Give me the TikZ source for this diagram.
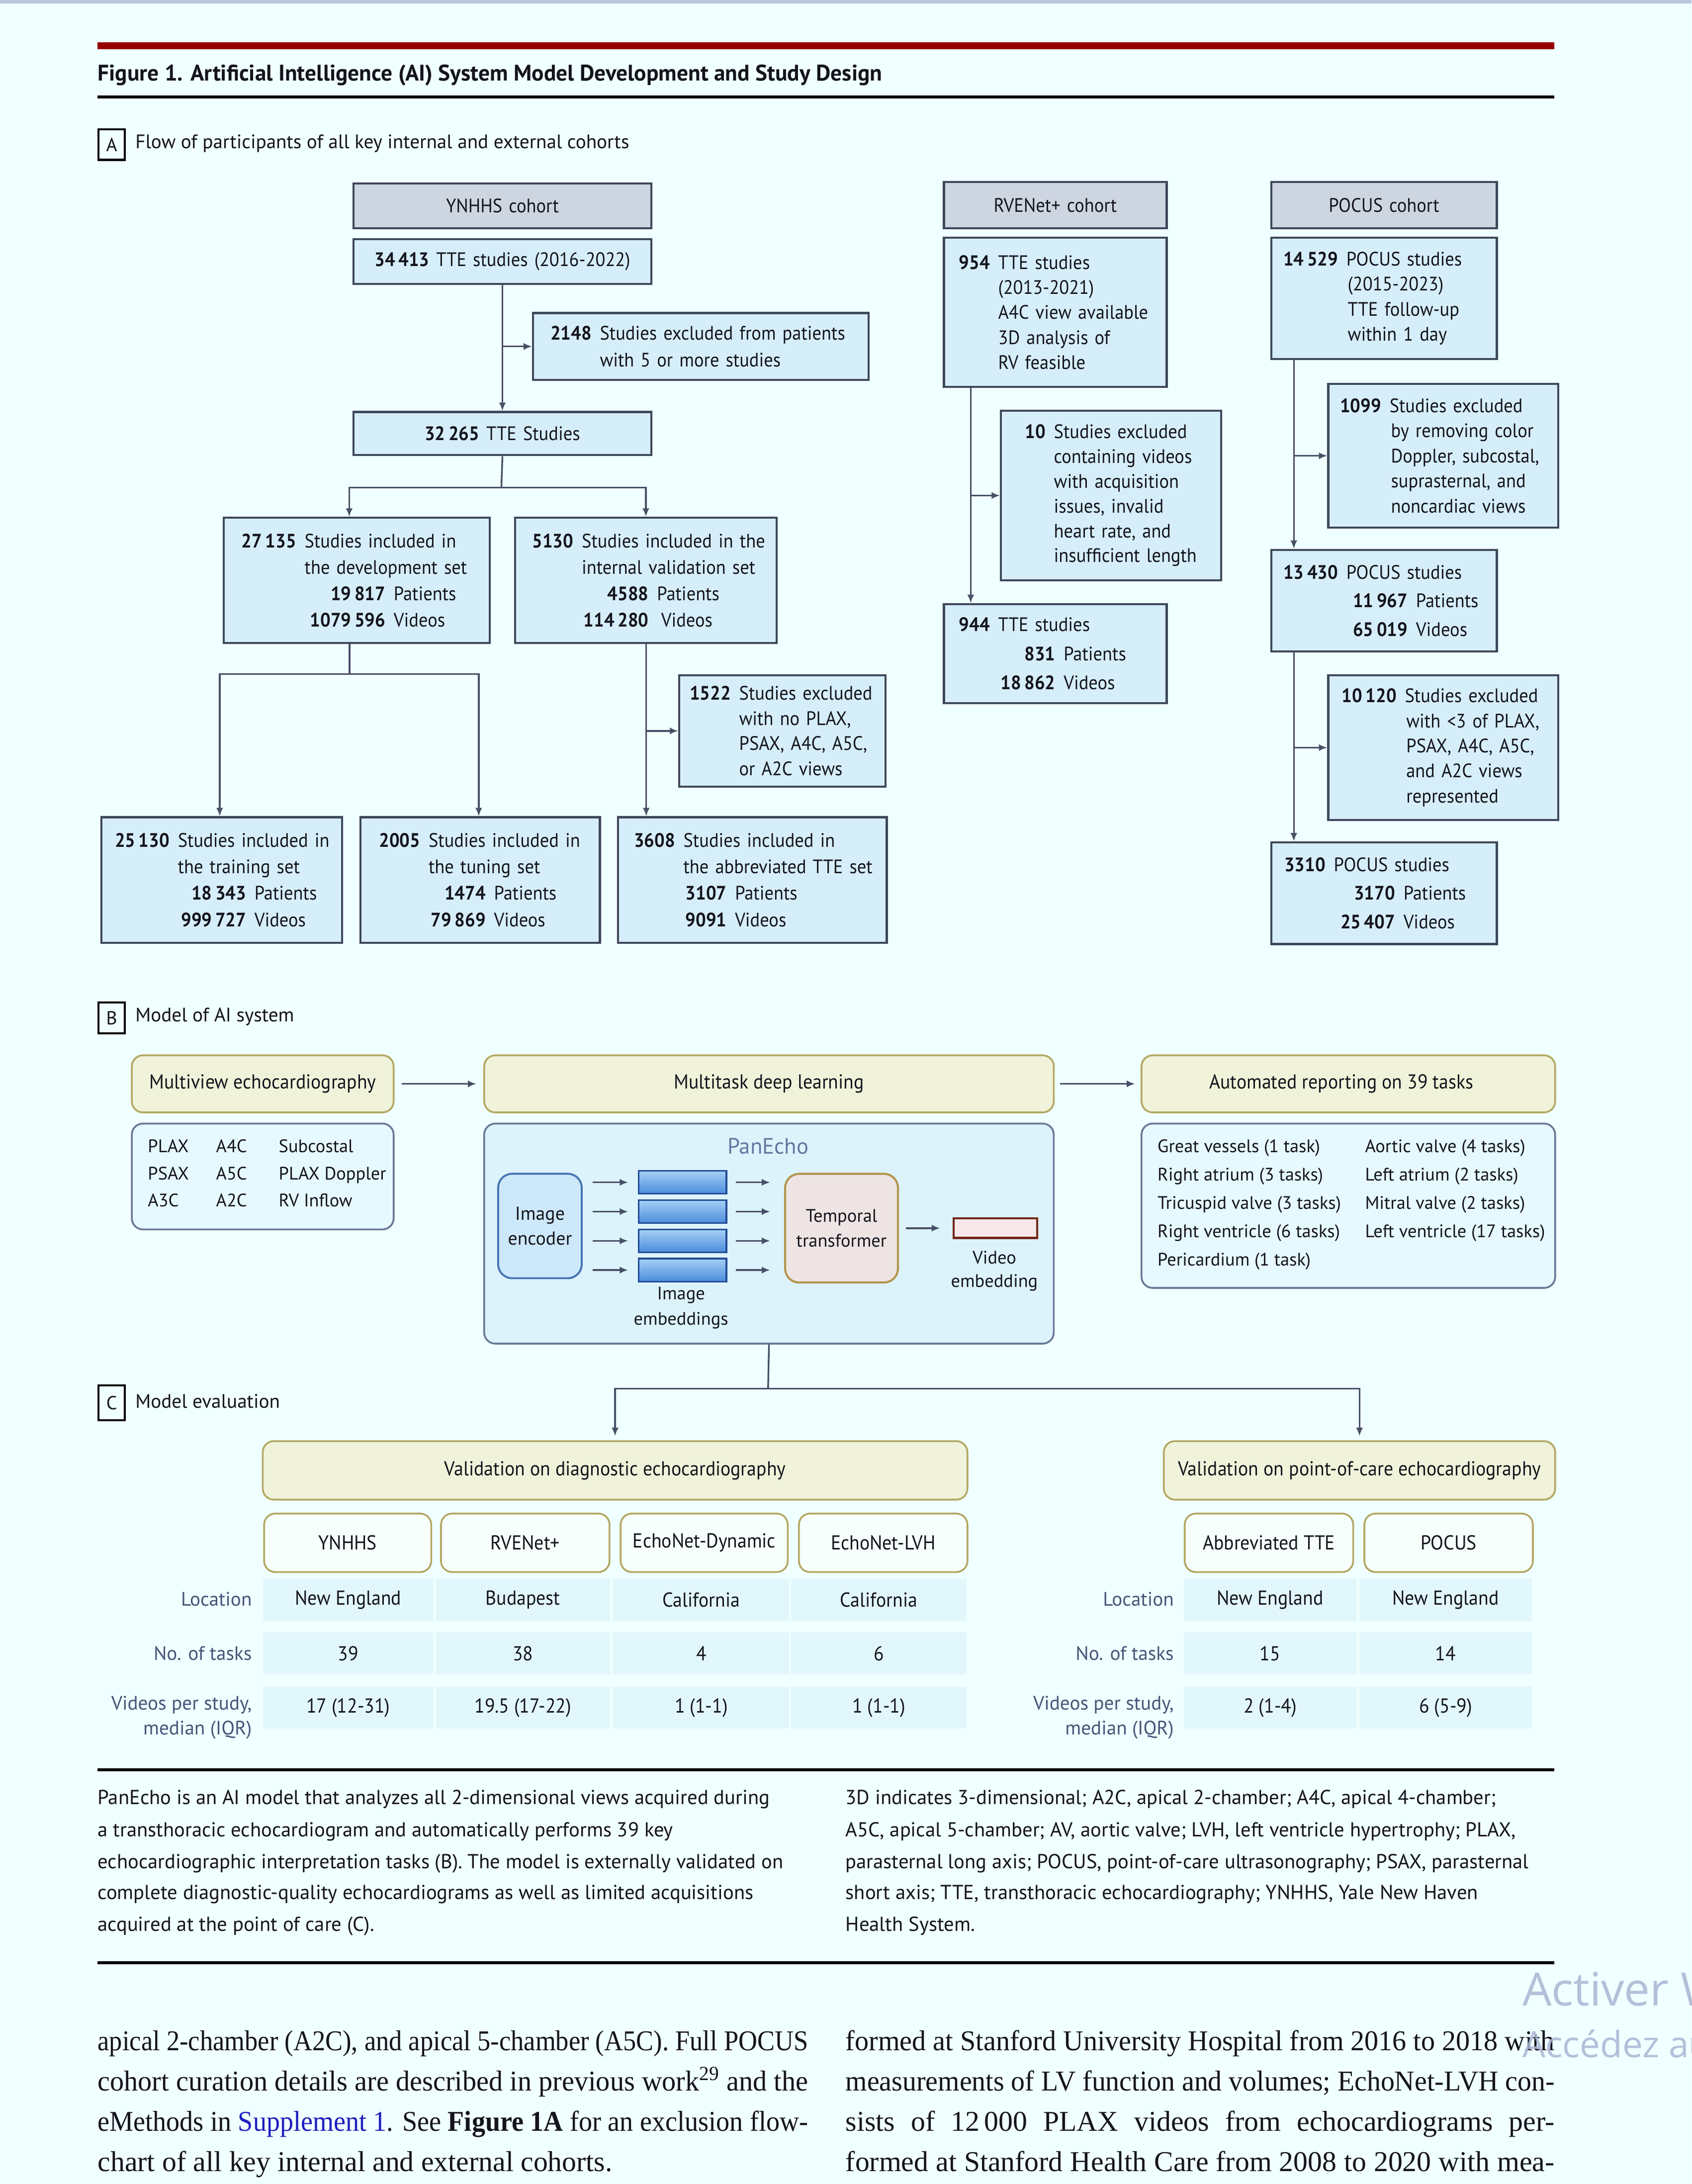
\documentclass[tikz,border=0pt]{standalone}
\usepackage{fontspec}
\usepackage{graphicx}
\setmainfont{PT Sans}
\newfontfamily\cfont{PT Sans}[FakeStretch=0.93]
\newfontfamily\bodyserif{Liberation Serif}
\newfontfamily\wmsans{Open Sans}
\usetikzlibrary{arrows.meta,calc}
\definecolor{bgc}{RGB}{240,255,255}
\definecolor{strip}{RGB}{185,200,222}
\definecolor{redbar}{RGB}{150,0,0}
\definecolor{bxline}{RGB}{62,72,92}
\definecolor{bxfill}{RGB}{214,238,250}
\definecolor{hdrfill}{RGB}{205,213,225}
\definecolor{lncol}{RGB}{70,80,102}
\definecolor{oline}{RGB}{180,168,100}
\definecolor{ofill}{RGB}{240,243,218}
\definecolor{subfill}{RGB}{246,255,252}
\definecolor{rline}{RGB}{105,120,150}
\definecolor{vfill}{RGB}{230,249,255}
\definecolor{pfill}{RGB}{220,243,252}
\definecolor{encfill}{RGB}{205,232,250}
\definecolor{encline}{RGB}{70,115,180}
\definecolor{trfill}{RGB}{238,228,228}
\definecolor{trline}{RGB}{180,150,80}
\definecolor{embtop}{RGB}{165,208,245}
\definecolor{embbot}{RGB}{75,140,220}
\definecolor{embline}{RGB}{35,75,150}
\definecolor{vidline}{RGB}{115,40,25}
\definecolor{vidfill}{RGB}{246,232,234}
\definecolor{cellc}{RGB}{226,247,252}
\definecolor{labc}{RGB}{70,85,120}
\definecolor{pantxt}{RGB}{100,120,160}
\definecolor{txt}{RGB}{20,20,28}
\definecolor{wm}{RGB}{170,180,212}
\definecolor{suppl}{RGB}{30,30,190}
\newcommand\myfs[2]{\fontsize{#1pt}{#2pt}\selectfont}
\newcommand\nl[3]{\makebox[#1pt][r]{\textbf{#2}}\hspace{6pt}#3}
\newcommand\il[2]{\hspace*{#1pt}#2}
\newsavebox\jbox
\newcommand\jline[2]{\sbox\jbox{#2}\ifdim\wd\jbox>#1\relax\resizebox{#1}{\ht\jbox}{\usebox\jbox}\else\makebox[#1][s]{#2}\fi}
\tikzset{
  every node/.style={text=txt},
  bx/.style={draw=bxline, fill=bxfill, line width=1.5pt, inner sep=0pt, anchor=north west, font=\cfont\myfs{14}{19}},
  hdr/.style={bx, fill=hdrfill},
  conn/.style={draw=lncol, line width=1.2pt},
  arr/.style={conn, -{Latex[length=6pt,width=5pt]}},
  obox/.style={draw=oline, fill=ofill, line width=1.3pt, rounded corners=8pt, inner sep=0pt, anchor=north west, font=\cfont\myfs{14.5}{18}},
  sbox/.style={obox, fill=subfill},
  rbox/.style={draw=rline, fill=vfill, line width=1.3pt, rounded corners=8pt, inner sep=0pt, anchor=north west},
  cellbox/.style={fill=cellc, inner sep=0pt, font=\cfont\myfs{14.5}{18}},
  rowlab/.style={anchor=east, inner sep=0pt, text=labc, font=\myfs{14}{18}, align=right},
  captxt/.style={anchor=base west, inner sep=0pt, font=\myfs{14.5}{18}},
  bodytxt/.style={anchor=base west, inner sep=0pt, font=\bodyserif\myfs{20.6}{24}},
  plab/.style={draw=black, line width=1.5pt, minimum width=19pt, minimum height=22pt, inner sep=0pt, anchor=north west, font=\myfs{13.5}{15}},
  embbar/.style={draw=embline, line width=1.2pt, top color=embtop, bottom color=embbot, minimum width=63pt, minimum height=16.5pt, inner sep=0pt, anchor=north west},
  ptitle/.style={anchor=west, inner sep=0pt, font=\myfs{14}{16}},
}
\begin{document}
\begin{tikzpicture}[x=1pt,y=-1pt]
\useasboundingbox (0,0) rectangle (1214.6,1568);
\fill[bgc] (0,0) rectangle (1214.6,1568);
\fill[strip] (0,0) rectangle (1214.6,2.5);
\fill[redbar] (70,30.5) rectangle (1116,35.5);
\node[anchor=base west, inner sep=0pt, font=\bfseries\myfs{16.2}{18}] (ttl) at (70,58) {Figure 1. Artificial Intelligence (AI) System Model Development and Study Design};
\draw[line width=2.2pt, black] (70,69.5) -- (1116,69.5);

% ---------- Panel A
\node[plab] (la) at (70,92) {A};
\node[ptitle] (lat) at (97,103) {Flow of participants of all key internal and external cohorts};

\node[hdr, text width=214pt, minimum height=32pt, align=center] (yh) at (253,131) {YNHHS cohort};
\node[bx, text width=214pt, minimum height=32pt, align=center] (y1) at (253,171) {\textbf{34\,413}\hspace{5pt}TTE studies (2016-2022)};
\node[bx, text width=241pt, minimum height=48pt, align=left] (yx1) at (382,224) {\nl{42}{2148}{Studies excluded from patients}\\ \il{48}{with 5 or more studies}};
\node[bx, text width=214pt, minimum height=31pt, align=center] (y2) at (253,295) {\textbf{32\,265}\hspace{5pt}TTE Studies};
\node[bx, text width=191pt, minimum height=90pt, align=left] (ydev) at (160,371) {\nl{52}{27\,135}{Studies included in}\\ \il{58}{the development set}\\ \nl{116}{19\,817}{Patients}\\ \nl{116}{1079\,596}{Videos}};
\node[bx, text width=188pt, minimum height=90pt, align=left] (yval) at (369,371) {\nl{42}{5130}{Studies included in the}\\ \il{48}{internal validation set}\\ \nl{96}{4588}{Patients}\\ \nl{96}{114\,280}{\hspace{3pt}Videos}};
\node[bx, text width=148pt, minimum height=80pt, align=left, font=\cfont\myfs{14}{18}] (yx2) at (487,484) {\nl{37}{1522}{Studies excluded}\\ \il{43}{with no PLAX,}\\ \il{43}{PSAX, A4C, A5C,}\\ \il{43}{or A2C views}};
\node[bx, text width=173pt, minimum height=90pt, align=left] (ytr) at (72,586) {\nl{49}{25\,130}{Studies included in}\\ \il{55}{the training set}\\ \nl{104}{18\,343}{Patients}\\ \nl{104}{999\,727}{Videos}};
\node[bx, text width=172pt, minimum height=90pt, align=left] (ytu) at (258,586) {\nl{43}{2005}{Studies included in}\\ \il{49}{the tuning set}\\ \nl{90}{1474}{Patients}\\ \nl{90}{79\,869}{Videos}};
\node[bx, text width=193pt, minimum height=90pt, align=left] (yab) at (443,586) {\nl{41}{3608}{Studies included in}\\ \il{47}{the abbreviated TTE set}\\ \nl{78}{3107}{Patients}\\ \nl{78}{9091}{Videos}};

\node[hdr, text width=160pt, minimum height=33pt, align=center] (rh) at (677,130) {RVENet+ cohort};
\node[bx, text width=160pt, minimum height=107pt, align=left, font=\cfont\myfs{14}{18}] (r1) at (677,170) {\nl{33}{954}{TTE studies}\\ \il{39}{(2013-2021)}\\ \il{39}{A4C view available}\\ \il{39}{3D analysis of}\\ \il{39}{RV feasible}};
\node[bx, text width=158pt, minimum height=122pt, align=left, font=\cfont\myfs{14}{17.8}] (rx) at (718,294) {\nl{32}{10}{Studies excluded}\\ \il{38}{containing videos}\\ \il{38}{with acquisition}\\ \il{38}{issues, invalid}\\ \il{38}{heart rate, and}\\ \il{38}{insufficient length}};
\node[bx, text width=160pt, minimum height=71pt, align=left, font=\cfont\myfs{14}{21}] (r2) at (677,433) {\nl{33}{944}{TTE studies}\\ \nl{80}{831}{Patients}\\ \nl{80}{18\,862}{Videos}};

\node[hdr, text width=162pt, minimum height=33pt, align=center] (ph) at (912,130) {POCUS cohort};
\node[bx, text width=162pt, minimum height=87pt, align=left, font=\cfont\myfs{14}{18}] (p1) at (912,170) {\nl{48}{14\,529}{POCUS studies}\\ \il{55}{(2015-2023)}\\ \il{55}{TTE follow-up}\\ \il{55}{within 1 day}};
\node[bx, text width=165pt, minimum height=103pt, align=left, font=\cfont\myfs{14}{18}] (px1) at (953,275) {\nl{38}{1099}{Studies excluded}\\ \il{45}{by removing color}\\ \il{45}{Doppler, subcostal,}\\ \il{45}{suprasternal, and}\\ \il{45}{noncardiac views}};
\node[bx, text width=162pt, minimum height=73pt, align=left, font=\cfont\myfs{14}{20.5}] (p2) at (912,394) {\nl{48}{13\,430}{POCUS studies}\\ \nl{98}{11\,967}{Patients}\\ \nl{98}{65\,019}{Videos}};
\node[bx, text width=165pt, minimum height=104pt, align=left, font=\cfont\myfs{14}{18}] (px2) at (953,484) {\nl{49}{10\,120}{Studies excluded}\\ \il{56}{with <3 of PLAX,}\\ \il{56}{PSAX, A4C, A5C,}\\ \il{56}{and A2C views}\\ \il{56}{represented}};
\node[bx, text width=162pt, minimum height=73pt, align=left, font=\cfont\myfs{14}{20.5}] (p3) at (912,604) {\nl{39}{3310}{POCUS studies}\\ \nl{89}{3170}{Patients}\\ \nl{89}{25\,407}{Videos}};

% connectors A
\draw[arr] (y1.south) -- (y2.north);
\draw[arr] (y1.south |- yx1.west) -- (yx1.west);
\coordinate (yj1) at (360,350);
\draw[conn] (y2.south) -- (yj1);
\draw[arr] (yj1) -| ([xshift=-5.5pt]ydev.north);
\draw[arr] (yj1) -| (yval.north);
\coordinate (yj2) at (251,484);
\draw[conn] (ydev.south -| yj2) -- (yj2);
\draw[arr] (yj2) -| ([xshift=-1.5pt]ytr.north);
\draw[arr] (yj2) -| ([xshift=-1pt]ytu.north);
\coordinate (yv) at (464,0);
\draw[arr] (yval.south -| yv) -- (yab.north -| yv);
\draw[arr] (yx2.west -| yv) -- (yx2.west);
\coordinate (rvx) at (697,0);
\draw[arr] (r1.south -| rvx) -- (r2.north -| rvx);
\draw[arr] (rx.west -| rvx) -- (rx.west);
\coordinate (pcx) at (929,0);
\draw[arr] (p1.south -| pcx) -- (p2.north -| pcx);
\draw[arr] (px1.west -| pcx) -- (px1.west);
\draw[arr] (p2.south -| pcx) -- (p3.north -| pcx);
\draw[arr] (px2.west -| pcx) -- (px2.west);

% ---------- Panel B
\node[plab] (lb) at (70,719) {B};
\node[ptitle] (lbt) at (97,730) {Model of AI system};
\node[obox, minimum width=188pt, minimum height=41pt] (mv) at (94,757) {Multiview echocardiography};
\node[obox, minimum width=409pt, minimum height=41pt] (mdl) at (347,757) {Multitask deep learning};
\node[obox, minimum width=297pt, minimum height=41pt] (aut) at (819,757) {\hspace*{-10pt}Automated reporting on 39 tasks};
\draw[arr, shorten <=5pt, shorten >=5pt] (mv.east) -- (mdl.west);
\draw[arr, shorten <=4pt, shorten >=4pt] (mdl.east) -- (aut.west);

\node[rbox, minimum width=188pt, minimum height=76pt] (vw) at (94,806) {};
\node[anchor=west, inner sep=0pt, font=\myfs{13}{19.5}] (vwt) at (106,843) {\begin{tabular}{@{}p{49pt}@{}p{45pt}@{}l@{}}PLAX & A4C & Subcostal\\ PSAX & A5C & PLAX Doppler\\ A3C & A2C & RV Inflow\end{tabular}};

\node[rbox, fill=pfill, minimum width=409pt, minimum height=158pt] (pe) at (347,806) {};
\node[inner sep=0pt, text=pantxt, font=\myfs{16}{18}] (pet) at (551.5,823) {PanEcho};
\node[draw=encline, fill=encfill, line width=1.4pt, rounded corners=10pt, minimum width=60pt, minimum height=75pt, inner sep=0pt, anchor=north west, align=center, font=\myfs{13.5}{18}] (enc) at (357,842) {Image\\encoder};
\node[embbar] (e1) at (458,840) {};
\node[embbar] (e2) at (458,861) {};
\node[embbar] (e3) at (458,882) {};
\node[embbar] (e4) at (458,903) {};
\node[draw=trline, fill=trfill, line width=1.5pt, rounded corners=10pt, minimum width=81pt, minimum height=78pt, inner sep=0pt, anchor=north west, align=center, font=\myfs{13}{18}] (tr) at (563,842) {Temporal\\transformer};
\foreach \i in {1,...,4} {
  \draw[arr, shorten <=7pt, shorten >=7pt] (enc.east |- e\i.west) -- (e\i.west);
  \draw[arr, shorten <=6pt, shorten >=10pt] (e\i.east) -- (tr.west |- e\i.east);
}
\node[inner sep=0pt, align=center, font=\myfs{13}{18}] (embl) at (489,939) {Image\\embeddings};
\node[draw=vidline, fill=vidfill, line width=1.5pt, minimum width=60pt, minimum height=14pt, inner sep=0pt, anchor=north west] (vid) at (684,874) {};
\draw[arr, shorten <=5pt, shorten >=9pt] (tr.east |- vid.west) -- (vid.west);
\node[inner sep=0pt, align=center, font=\myfs{13}{17}] (vidl) at (714,912.5) {Video\\embedding};

\node[rbox, minimum width=297pt, minimum height=118pt] (tk) at (819,806) {};
\node[anchor=west, inner sep=0pt, font=\myfs{13}{20.3}] (tkt) at (831,864) {\begin{tabular}{@{}p{149pt}@{}l@{}}Great vessels (1 task) & Aortic valve (4 tasks)\\ Right atrium (3 tasks) & Left atrium (2 tasks)\\ Tricuspid valve (3 tasks) & Mitral valve (2 tasks)\\ Right ventricle (6 tasks) & Left ventricle (17 tasks)\\ Pericardium (1 task) & \end{tabular}};

% ---------- Panel C
\node[plab, minimum height=25pt] (lc) at (70,994) {C};
\node[ptitle] (lct) at (97,1006) {Model evaluation};
\node[obox, minimum width=506pt, minimum height=42pt] (dg) at (188,1034) {Validation on diagnostic echocardiography};
\node[obox, minimum width=281pt, minimum height=42pt] (pc) at (835,1034) {Validation on point-of-care echocardiography};
\coordinate (cj) at (551.5,997);
\draw[conn] (pe.south) -- (cj);
\draw[arr, shorten >=3pt] (cj) -| (dg.north);
\draw[arr, shorten >=3pt] (cj) -| (pc.north);

\node[sbox, minimum width=120pt, minimum height=42pt] (s1) at (189,1086) {YNHHS};
\node[sbox, minimum width=121pt, minimum height=42pt] (s2) at (316,1086) {RVENet+};
\node[sbox, minimum width=120pt, minimum height=42pt] (s3) at (445,1086) {EchoNet-Dynamic};
\node[sbox, minimum width=121pt, minimum height=42pt] (s4) at (573,1086) {EchoNet-LVH};
\node[sbox, minimum width=121pt, minimum height=42pt] (s5) at (850,1086) {Abbreviated TTE};
\node[sbox, minimum width=121pt, minimum height=42pt] (s6) at (979,1086) {POCUS};

\node[cellbox, minimum width=122pt, minimum height=31pt] (c11) at (250,1148.5) {New England};
\node[cellbox, minimum width=125pt, minimum height=31pt] (c12) at (375.5,1148.5) {Budapest};
\node[cellbox, minimum width=127pt, minimum height=31pt] (c13) at (503.5,1148.5) {California};
\node[cellbox, minimum width=126pt, minimum height=31pt] (c14) at (631,1148.5) {California};
\node[cellbox, minimum width=122pt, minimum height=30pt] (c21) at (250,1187) {39};
\node[cellbox, minimum width=125pt, minimum height=30pt] (c22) at (375.5,1187) {38};
\node[cellbox, minimum width=127pt, minimum height=30pt] (c23) at (503.5,1187) {4};
\node[cellbox, minimum width=126pt, minimum height=30pt] (c24) at (631,1187) {6};
\node[cellbox, minimum width=122pt, minimum height=30pt] (c31) at (250,1226) {17 (12-31)};
\node[cellbox, minimum width=125pt, minimum height=30pt] (c32) at (375.5,1226) {19.5 (17-22)};
\node[cellbox, minimum width=127pt, minimum height=30pt] (c33) at (503.5,1226) {1 (1-1)};
\node[cellbox, minimum width=126pt, minimum height=30pt] (c34) at (631,1226) {1 (1-1)};
\node[cellbox, minimum width=124pt, minimum height=31pt] (c15) at (912,1148.5) {New England};
\node[cellbox, minimum width=124pt, minimum height=31pt] (c16) at (1038,1148.5) {New England};
\node[cellbox, minimum width=124pt, minimum height=30pt] (c25) at (912,1187) {15};
\node[cellbox, minimum width=124pt, minimum height=30pt] (c26) at (1038,1187) {14};
\node[cellbox, minimum width=124pt, minimum height=30pt] (c35) at (912,1226) {2 (1-4)};
\node[cellbox, minimum width=124pt, minimum height=30pt] (c36) at (1038,1226) {6 (5-9)};
\node[rowlab] (l1) at (181,1148) {Location};
\node[rowlab] (l2) at (181,1187) {No. of tasks};
\node[rowlab] (l3) at (181,1233) {Videos per study,\\median (IQR)};
\node[rowlab] (l4) at (843,1148) {Location};
\node[rowlab] (l5) at (843,1187) {No. of tasks};
\node[rowlab] (l6) at (843,1233) {Videos per study,\\median (IQR)};

% ---------- caption
\draw[line width=2.2pt, black] (70,1270.5) -- (1116,1270.5);
\node[captxt] (cl1) at (70,1295.5) {PanEcho is an AI model that analyzes all 2-dimensional views acquired during};
\node[captxt] (cl2) at (70,1318.5) {a transthoracic echocardiogram and automatically performs 39 key};
\node[captxt] (cl3) at (70,1341.5) {echocardiographic interpretation tasks (B). The model is externally validated on};
\node[captxt] (cl4) at (70,1363.5) {complete diagnostic-quality echocardiograms as well as limited acquisitions};
\node[captxt] (cl5) at (70,1386.5) {acquired at the point of care (C).};
\node[captxt] (cr1) at (607,1295.5) {3D indicates 3-dimensional; A2C, apical 2-chamber; A4C, apical 4-chamber;};
\node[captxt] (cr2) at (607,1318.5) {A5C, apical 5-chamber; AV, aortic valve; LVH, left ventricle hypertrophy; PLAX,};
\node[captxt] (cr3) at (607,1341.5) {parasternal long axis; POCUS, point-of-care ultrasonography; PSAX, parasternal};
\node[captxt] (cr4) at (607,1363.5) {short axis; TTE, transthoracic echocardiography; YNHHS, Yale New Haven};
\node[captxt] (cr5) at (607,1386.5) {Health System.};
\draw[line width=2.2pt, black] (70,1409) -- (1116,1409);

% ---------- body text
\node[bodytxt] (bl1) at (70,1472) {\jline{510pt}{apical 2-chamber (A2C), and apical 5-chamber (A5C). Full POCUS}};
\node[bodytxt] (bl2) at (70,1501) {\jline{510pt}{cohort curation details are described in previous work\textsuperscript{29} and the}};
\node[bodytxt] (bl3) at (70,1530) {\jline{510pt}{eMethods in \textcolor{suppl}{Supplement 1}. See \textbf{Figure 1A} for an exclusion flow-}};
\node[bodytxt] (bl4) at (70,1559) {chart of all key internal and external cohorts.};
\node[bodytxt] (br1) at (607,1472) {\jline{509pt}{formed at Stanford University Hospital from 2016 to 2018 with}};
\node[bodytxt] (br2) at (607,1501) {\jline{509pt}{measurements of LV function and volumes; EchoNet-LVH con-}};
\node[bodytxt] (br3) at (607,1530) {\jline{509pt}{sists of 12\,000 PLAX videos from echocardiograms per-}};
\node[bodytxt] (br4) at (607,1559) {\jline{509pt}{formed at Stanford Health Care from 2008 to 2020 with mea-}};

% ---------- watermark
\node[anchor=base west, inner sep=0pt, text=wm, text opacity=0.85, font=\wmsans\myfs{33}{36}] (wm1) at (1093,1440) {Activer W};
\node[anchor=base west, inner sep=0pt, text=wm, text opacity=0.85, font=\wmsans\myfs{26}{30}] (wm2) at (1093,1477) {Accédez au};
\end{tikzpicture}
\end{document}
